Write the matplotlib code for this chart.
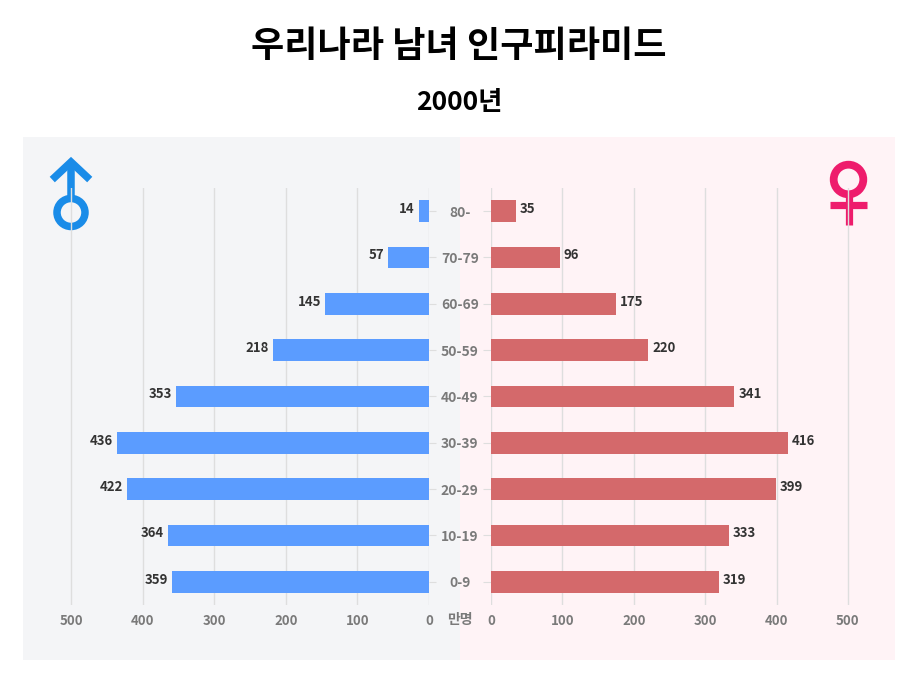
import numpy as np
import matplotlib
matplotlib.use('Agg')
import matplotlib.pyplot as plt
from matplotlib.patches import Rectangle, Circle

plt.rcParams['font.family'] = ['Noto Sans CJK KR', 'DejaVu Sans']

# data (만명), order from youngest to oldest
ages = ['0-9', '10-19', '20-29', '30-39', '40-49', '50-59', '60-69', '70-79', '80-']
male = [359, 364, 422, 436, 353, 218, 145, 57, 14]
female = [319, 333, 399, 416, 341, 220, 175, 96, 35]
ticks = [0, 100, 200, 300, 400, 500]

W, H = 918, 682
fig = plt.figure(figsize=(W / 100, H / 100), dpi=100)
fig.patch.set_facecolor('white')

def box(x0, y0, x1, y1):
    # pixel box -> figure fraction
    return [x0 / W, 1 - y1 / H, (x1 - x0) / W, (y1 - y0) / H]

# background + sex symbols, pixel coords
bg = fig.add_axes([0, 0, 1, 1])
bg.set_xlim(0, W)
bg.set_ylim(H, 0)
bg.axis('off')
bg.add_patch(Rectangle((23, 137), 437, 523, color='#f4f5f7', lw=0))
bg.add_patch(Rectangle((460, 137), 435, 523, color='#fff3f6', lw=0))

blue_sym = '#1a8ce8'
pink_sym = '#ee1c6c'
bg.add_patch(Circle((71, 212.5), 14.0, fill=False, ec=blue_sym, lw=5.4))
bg.plot([71, 71], [198, 163], color=blue_sym, lw=5.4, solid_capstyle='butt')
bg.plot([55, 71, 87], [177, 162, 177], color=blue_sym, lw=5.4, solid_joinstyle='miter')
bg.add_patch(Circle((848.5, 179.5), 14.8, fill=False, ec=pink_sym, lw=5.6))
bg.plot([848.5, 848.5], [196, 225], color=pink_sym, lw=5.2, solid_capstyle='butt')
bg.plot([830, 867], [204.5, 204.5], color=pink_sym, lw=5.2, solid_capstyle='butt')

y = np.arange(len(ages))
tick_color = '#7a7a7a'
grid_color = '#dedede'

axL = fig.add_axes(box(23, 188, 429, 605))
axR = fig.add_axes(box(491, 188, 895, 605))

for ax in (axL, axR):
    ax.set_facecolor('none')
    for s in ax.spines.values():
        s.set_visible(False)
    ax.set_ylim(-0.5, 8.5)
    ax.set_xticks(ticks)
    ax.grid(axis='x', color=grid_color, lw=1)
    ax.set_axisbelow(True)
    ax.tick_params(axis='x', length=0, pad=6.5, labelsize=9.5, labelcolor=tick_color)
    for lab in ax.get_xticklabels():
        lab.set_fontweight('bold')

axL.set_xlim(567, 0)
axR.set_xlim(0, 566)

axL.barh(y, male, height=0.47, color='#5b9cff', zorder=3)
axR.barh(y, female, height=0.47, color='#d4696b', zorder=3)

for yi, v in zip(y, male):
    axL.annotate(str(v), (v, yi), xytext=(-3, 1.5), textcoords='offset points',
                 ha='right', va='center', fontsize=9.5, fontweight='bold', color='#333333')
for yi, v in zip(y, female):
    axR.annotate(str(v), (v, yi), xytext=(3, 1.5), textcoords='offset points',
                 ha='left', va='center', fontsize=9.5, fontweight='bold', color='#333333')

axL.yaxis.tick_right()
axL.set_yticks(y)
axL.tick_params(axis='y', length=5, color=grid_color, labelright=False)
axR.set_yticks(y)
axR.set_yticklabels(ages)
axR.tick_params(axis='y', length=6, color=grid_color, pad=16.5, labelsize=10, labelcolor=tick_color)
for lab in axR.get_yticklabels():
    lab.set_horizontalalignment('center')
    lab.set_fontweight('bold')

fig.text(460 / W, 1 - 620 / H, '만명', ha='center', va='center', fontsize=10,
         fontweight='bold', color=tick_color)

fig.text(459 / W, 1 - 47 / H, '우리나라 남녀 인구피라미드', ha='center', va='center',
         fontsize=26, fontweight='bold', color='black')
fig.text(459 / W, 1 - 103 / H, '2000년', ha='center', va='center',
         fontsize=19, fontweight='bold', color='black')

fig.savefig('out.png', dpi=100)
